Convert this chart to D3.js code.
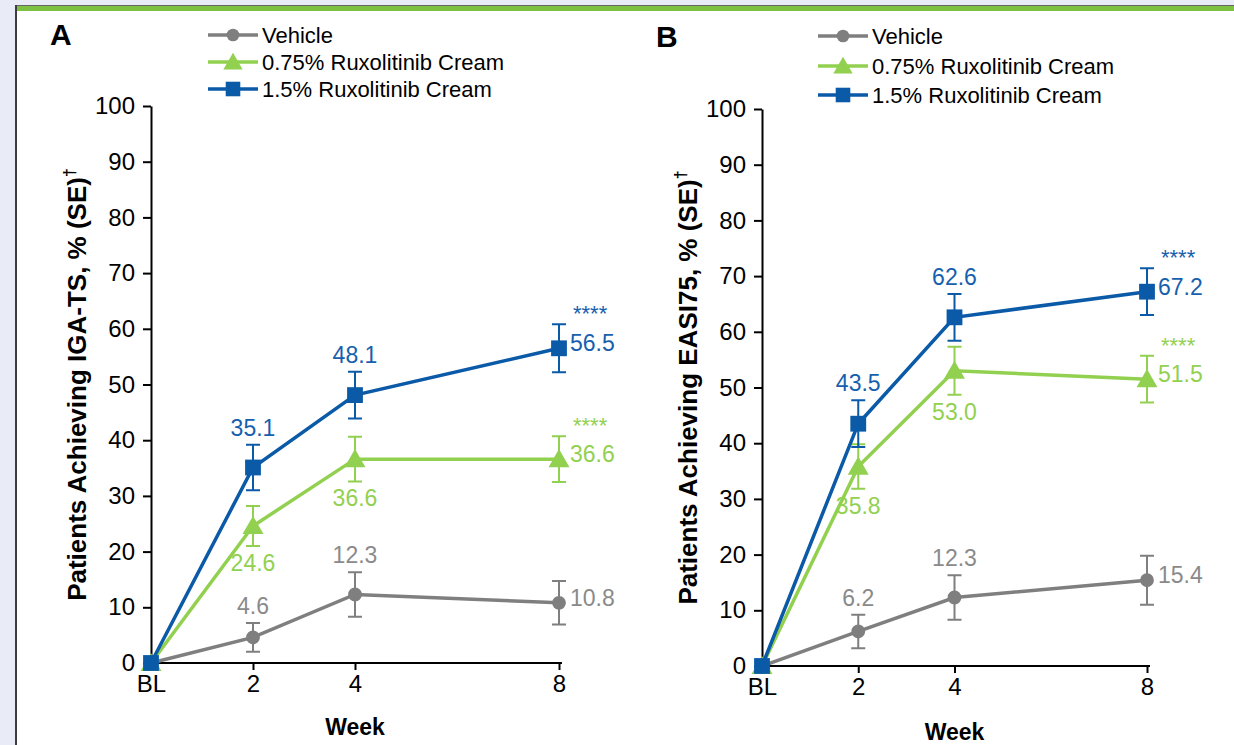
<!DOCTYPE html>
<html>
<head>
<meta charset="utf-8">
<script src="https://cdn.jsdelivr.net/npm/d3@7"></script>
<style>
  html, body { margin: 0; padding: 0; background: #e9ecf6; }
  svg { display: block; font-family: "Liberation Sans", Arial, sans-serif; }
</style>
</head>
<body>
<svg id="chart" width="1234" height="745"></svg>
<script>
// ── Data ──────────────────────────────────────────────
const weeks = [0, 2, 4, 8];
const weekLabels = ['BL', '2', '4', '8'];
const yTicks = [0, 10, 20, 30, 40, 50, 60, 70, 80, 90, 100];
const seriesNames = ['Vehicle', '0.75% Ruxolitinib Cream', '1.5% Ruxolitinib Cream'];

// Panel A: IGA-TS
const igaVehicle = [0, 4.6, 12.3, 10.8];
const igaVehicleSE = [0, 2.6, 4.0, 3.9];
const igaLow = [0, 24.6, 36.6, 36.6];
const igaLowSE = [0, 3.6, 4.0, 4.1];
const igaHigh = [0, 35.1, 48.1, 56.5];
const igaHighSE = [0, 4.1, 4.2, 4.3];
const igaSig = ['', '****', '****'];

// Panel B: EASI75
const easiVehicle = [0, 6.2, 12.3, 15.4];
const easiVehicleSE = [0, 3.0, 4.0, 4.4];
const easiLow = [0, 35.8, 53.0, 51.5];
const easiLowSE = [0, 4.0, 4.3, 4.2];
const easiHigh = [0, 43.5, 62.6, 67.2];
const easiHighSE = [0, 4.2, 4.2, 4.2];
const easiSig = ['', '****', '****'];

// ── Styles ────────────────────────────────────────────
const LINE_COLORS = ['#7f7f7f', '#92d050', '#0a5aa8'];
const TEXT_COLORS = ['#8a8a8a', '#92d050', '#1660ae'];
const MARKERS = [d3.symbolCircle, d3.symbolTriangle, d3.symbolSquare];
const MARKER_SIZES = [150, 190, 250];
// where each value label goes (per series, per week)
const LABEL_POS = [
  [null, 'above', 'above', 'right'],
  [null, 'below', 'below', 'right'],
  [null, 'above', 'above', 'right']
];

const svg = d3.select('#chart');

// page frame
svg.append('rect').attr('x', 16).attr('y', 5).attr('width', 1218).attr('height', 740).attr('fill', '#fff');
svg.append('rect').attr('x', 16).attr('y', 5).attr('width', 1218).attr('height', 1).attr('fill', '#666');
svg.append('rect').attr('x', 17).attr('y', 6).attr('width', 1217).attr('height', 5).attr('fill', '#7cc142');
svg.append('rect').attr('x', 15).attr('y', 5).attr('width', 2).attr('height', 740).attr('fill', '#3d3d3d');

const panels = [
  {
    letter: 'A', letterX: 50, letterY: 45,
    x0: 151, x8: 559, y0: 663, y100: 106,
    titleX: 77, title: 'Patients Achieving IGA-TS, % (SE)',
    legendX: 208, legendY: [35, 62, 89],
    series: [[igaVehicle, igaVehicleSE], [igaLow, igaLowSE], [igaHigh, igaHighSE]],
    sig: igaSig, weekY: 735
  },
  {
    letter: 'B', letterX: 656, letterY: 47,
    x0: 762, x8: 1147, y0: 666, y100: 109,
    titleX: 688, title: 'Patients Achieving EASI75, % (SE)',
    legendX: 818, legendY: [36, 66, 95],
    series: [[easiVehicle, easiVehicleSE], [easiLow, easiLowSE], [easiHigh, easiHighSE]],
    sig: easiSig, weekY: 740
  }
];

panels.forEach(drawPanel);

function drawPanel(p) {
  const x = d3.scaleLinear().domain([0, 8]).range([p.x0, p.x8]);
  const y = d3.scaleLinear().domain([0, 100]).range([p.y0, p.y100]);
  const g = svg.append('g');

  g.append('text')
    .attr('x', p.letterX).attr('y', p.letterY)
    .attr('font-size', 30).attr('font-weight', 'bold')
    .text(p.letter);

  // legend
  seriesNames.forEach((name, i) => {
    const ly = p.legendY[i];
    g.append('line')
      .attr('x1', p.legendX).attr('x2', p.legendX + 50)
      .attr('y1', ly).attr('y2', ly)
      .attr('stroke', LINE_COLORS[i]).attr('stroke-width', 3.5);
    g.append('path')
      .attr('d', d3.symbol(MARKERS[i], MARKER_SIZES[i] * 0.85)())
      .attr('transform', `translate(${p.legendX + 25},${ly + (i === 1 ? 2 : 0)})`)
      .attr('fill', LINE_COLORS[i]);
    g.append('text')
      .attr('x', p.legendX + 54).attr('y', ly + 8)
      .attr('font-size', 22)
      .text(name);
  });

  // axes
  const yAxis = g.append('g')
    .attr('transform', `translate(${p.x0},0)`)
    .call(d3.axisLeft(y).tickValues(yTicks).tickSize(8).tickSizeOuter(0).tickPadding(8));
  const xAxis = g.append('g')
    .attr('transform', `translate(0,${p.y0})`)
    .call(d3.axisBottom(x).tickValues(weeks).tickFormat((d, i) => weekLabels[i])
      .tickSize(7).tickSizeOuter(0).tickPadding(5));
  xAxis.select('.domain').attr('d', `M${p.x0},0H${p.x8 + 3}`);
  xAxis.selectAll('.tick').filter(d => d === 0).select('line').remove();
  [yAxis, xAxis].forEach(a => {
    a.select('.domain').attr('stroke', '#000').attr('stroke-width', 2);
    a.selectAll('.tick line').attr('stroke', '#000').attr('stroke-width', 2);
    a.selectAll('.tick text').attr('font-size', 24).attr('fill', '#000')
      .attr('font-family', '"Liberation Sans", Arial, sans-serif');
  });

  // axis titles
  const midY = (p.y0 + p.y100) / 2;
  const t = g.append('text')
    .attr('transform', `translate(${p.titleX + 9},${midY}) rotate(-90)`)
    .attr('text-anchor', 'middle')
    .attr('font-size', 26).attr('font-weight', 'bold')
    .text(p.title);
  t.append('tspan').attr('font-size', 16).attr('dy', -11).text('†');

  g.append('text')
    .attr('x', (p.x0 + p.x8) / 2).attr('y', p.weekY)
    .attr('text-anchor', 'middle')
    .attr('font-size', 23).attr('font-weight', 'bold')
    .text('Week');

  // series
  const line = d3.line().x((d, i) => x(weeks[i])).y(d => y(d));
  p.series.forEach(([vals, se], s) => {
    const sg = g.append('g');
    // error bars
    vals.forEach((v, i) => {
      if (!se[i]) return;
      const cx = x(weeks[i]);
      sg.append('path')
        .attr('d', `M${cx - 7},${y(v + se[i])}H${cx + 7}M${cx},${y(v + se[i])}V${y(v - se[i])}M${cx - 7},${y(v - se[i])}H${cx + 7}`)
        .attr('fill', 'none').attr('stroke', LINE_COLORS[s]).attr('stroke-width', 2);
    });
    sg.append('path')
      .attr('d', line(vals))
      .attr('fill', 'none').attr('stroke', LINE_COLORS[s]).attr('stroke-width', 3.5);
  });

  // markers on top (BL marker of 1.5% covers the others)
  p.series.forEach(([vals, se], s) => {
    vals.forEach((v, i) => {
      g.append('path')
        .attr('d', d3.symbol(MARKERS[s], MARKER_SIZES[s])())
        .attr('transform', `translate(${x(weeks[i])},${y(v) + (s === 1 ? 2 : 0)})`)
        .attr('fill', LINE_COLORS[s]);
    });
  });

  // value labels
  p.series.forEach(([vals, se], s) => {
    vals.forEach((v, i) => {
      const pos = LABEL_POS[s][i];
      if (!pos) return;
      const cx = x(weeks[i]);
      const lbl = g.append('text')
        .attr('font-size', 23).attr('fill', TEXT_COLORS[s])
        .text(v.toFixed(1));
      if (pos === 'above') lbl.attr('x', cx).attr('y', y(v + se[i]) - 9).attr('text-anchor', 'middle');
      if (pos === 'below') lbl.attr('x', cx).attr('y', y(v - se[i]) + 25).attr('text-anchor', 'middle');
      if (pos === 'right') lbl.attr('x', cx + 11).attr('y', y(v) + 3);
    });
    if (p.sig[s]) {
      const last = vals.length - 1;
      g.append('text')
        .attr('x', x(weeks[last]) + 14).attr('y', y(vals[last] + se[last]) - 3)
        .attr('font-size', 22).attr('fill', TEXT_COLORS[s])
        .text(p.sig[s]);
    }
  });
}
</script>
</body>
</html>
